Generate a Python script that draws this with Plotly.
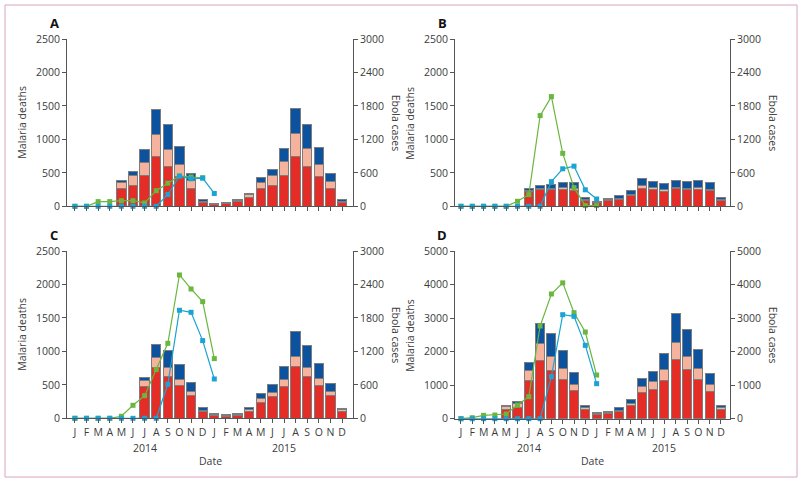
import plotly.graph_objects as go

months = ["J", "F", "M", "A", "M", "J", "J", "A", "S", "O", "N", "D"] * 2
years = ["2014", "2015"]
N = None

# Panel A
a_red = [N, N, N, N, 259, 314, 453, 742, 593, 440, 268, 62,
         28, 40, 72, 135, 259, 314, 463, 742, 593, 438, 264, 60]
a_salmon = [N, N, N, N, 95, 139, 204, 334, 259, 192, 112, 16,
            6, 10, 20, 35, 99, 139, 204, 339, 264, 189, 104, 15]
a_blue = [N, N, N, N, 39, 60, 185, 378, 363, 259, 115, 22,
          8, 8, 13, 25, 70, 90, 190, 383, 358, 254, 120, 25]
a_green_line = [0, 0, 84, 84, 100, 100, 60, 280, 415, 545, 525, 512,
                N, N, N, N, N, N, N, N, N, N, N, N]
a_cyan_line = [0, 0, 0, 0, 0, 0, 0, 0, 212, 540, 493, 505,
               230, N, N, N, N, N, N, N, N, N, N, N]

# Panel B
b_red = [N, N, N, N, N, N, 219, 244, 245, 254, 234, 80,
         50, 80, 100, 154, 269, 254, 224, 259, 249, 254, 234, 90]
b_salmon = [N, N, N, N, N, N, 15, 25, 25, 20, 35, 15,
            10, 15, 20, 15, 40, 30, 20, 25, 20, 30, 20, 10]
b_blue = [N, N, N, N, N, N, 25, 45, 60, 80, 80, 30,
          15, 25, 34, 70, 109, 94, 100, 109, 109, 104, 105, 34]
b_green_line = [0, 0, 0, 0, 0, 90, 209, 1626, 1967, 950, 335, 12,
                12, N, N, N, N, N, N, N, N, N, N, N]
b_cyan_line = [0, 0, 0, 0, 0, 0, 0, 0, 442, 672, 720, 296,
               131, N, N, N, N, N, N, N, N, N, N, N]

# Panel C
c_red = [N, N, N, N, N, N, 468, 757, 627, 483, 334, 100,
         45, 30, 45, 105, 239, 319, 468, 777, 632, 493, 334, 100]
c_salmon = [N, N, N, N, N, N, 95, 154, 130, 95, 64, 15,
            10, 8, 10, 20, 55, 64, 105, 149, 130, 100, 74, 25]
c_blue = [N, N, N, N, N, N, 50, 190, 249, 229, 135, 44,
          20, 12, 20, 29, 74, 115, 194, 364, 324, 219, 115, 24]
c_green_line = [0, 0, 0, 0, 36, 233, 406, 873, 1345, 2570, 2319, 2092,
                1070, N, N, N, N, N, N, N, N, N, N, N]
c_cyan_line = [0, 0, 0, 0, 0, 0, 0, 0, 610, 1937, 1901, 1393,
               705, N, N, N, N, N, N, N, N, N, N, N]

# Panel D
d_red = [N, N, N, N, 270, 338, 1133, 1740, 1441, 1173, 835, 268,
         119, 159, 219, 388, 775, 875, 1143, 1769, 1481, 1173, 825, 278]
d_salmon = [N, N, N, N, 80, 119, 308, 497, 428, 318, 189, 60,
            31, 31, 39, 69, 179, 228, 328, 507, 388, 318, 209, 50]
d_blue = [N, N, N, N, 50, 70, 249, 616, 666, 547, 348, 60,
          29, 29, 70, 129, 259, 299, 467, 855, 785, 577, 318, 60]
d_green_line = [0, 30, 100, 110, 140, 408, 656, 2763, 3718, 4050, 3161, 2584,
                1302, N, N, N, N, N, N, N, N, N, N, N]
d_cyan_line = [0, 0, 0, 0, 0, 0, 0, 0, 1252, 3101, 3052, 2187,
               1044, N, N, N, N, N, N, N, N, N, N, N]

left_ticks_ab_c = [0, 500, 1000, 1500, 2000, 2500]
right_ticks_ab_c = [0, 600, 1200, 1800, 2400, 3000]
ticks_d = [0, 1000, 2000, 3000, 4000, 5000]

RED = "#e42d27"
SALMON = "#f5b29c"
BLUE = "#0c529f"
GREEN = "#6ab63f"
CYAN = "#1ba3d3"
OUTLINE = "#7d7d7d"
AXIS = "#555555"
TXT = "#3c3c3c"
FONT = "Open Sans"

W, H = 800, 483
x_idx = list(range(24))

fig = go.Figure()

panels = [
    ("A", "x", "y", "y2", a_red, a_salmon, a_blue, a_green_line, a_cyan_line,
     left_ticks_ab_c, right_ticks_ab_c, (67, 353), (39, 206.3), (-0.68, 23.94), False),
    ("B", "x2", "y3", "y4", b_red, b_salmon, b_blue, b_green_line, b_cyan_line,
     left_ticks_ab_c, right_ticks_ab_c, (455, 730), (39, 206.3), (-0.53, 23.8), False),
    ("C", "x3", "y5", "y6", c_red, c_salmon, c_blue, c_green_line, c_cyan_line,
     left_ticks_ab_c, right_ticks_ab_c, (67, 353), (251, 418.3), (-0.68, 23.94), True),
    ("D", "x4", "y7", "y8", d_red, d_salmon, d_blue, d_green_line, d_cyan_line,
     ticks_d, ticks_d, (455, 730), (251, 418.7), (-0.53, 23.8), True),
]

layout_axes = {}
annotations = []

def ax_name(ref):
    return ref.replace("x", "xaxis").replace("y", "yaxis")

for (letter, xr, yl, yr, red, salmon, blue, gl, cl, lt, rt, xdom, ydom, xrng, bottom) in panels:
    for vals, col in ((red, RED), (salmon, SALMON), (blue, BLUE)):
        fig.add_trace(go.Bar(x=x_idx, y=vals, xaxis=xr, yaxis=yl, width=0.8,
                             marker=dict(color=col, line=dict(color=OUTLINE, width=1)),
                             showlegend=False, hoverinfo="skip"))
    for vals, col in ((gl, GREEN), (cl, CYAN)):
        fig.add_trace(go.Scatter(x=x_idx, y=vals, xaxis=xr, yaxis=yr, mode="lines+markers",
                                 line=dict(color=col, width=1.2),
                                 marker=dict(symbol="square", size=5, color=col),
                                 cliponaxis=False, connectgaps=False, showlegend=False,
                                 hoverinfo="skip"))

    xd = [xdom[0] / W, xdom[1] / W]
    yd = [1 - ydom[1] / H, 1 - ydom[0] / H]
    common = dict(showline=True, linecolor=AXIS, linewidth=1, ticks="outside",
                  ticklen=4, tickwidth=1, tickcolor=AXIS, showgrid=False,
                  zeroline=False, automargin=False,
                  tickfont=dict(family=FONT, size=10.5, color=TXT))
    layout_axes[ax_name(xr)] = dict(domain=xd, range=list(xrng), anchor=yl,
                                    tickvals=x_idx, ticktext=months,
                                    showticklabels=bottom, **common)
    layout_axes[ax_name(yl)] = dict(domain=yd, range=[0, lt[-1]], anchor=xr,
                                    tickvals=lt, **common)
    layout_axes[ax_name(yr)] = dict(range=[0, rt[-1]], anchor=xr, overlaying=yl,
                                    side="right", tickvals=rt, **common)

    ymid = 1 - (ydom[0] + ydom[1]) / 2 / H
    annotations.append(dict(text="<b>%s</b>" % letter, x=(xdom[0] - 13) / W,
                            y=1 - (ydom[0] - 16) / H, xref="paper", yref="paper",
                            showarrow=False, font=dict(family=FONT, size=13, color="#111"),
                            xanchor="center", yanchor="middle"))
    annotations.append(dict(text="Malaria deaths", x=(xdom[0] - 45) / W, y=ymid,
                            xref="paper", yref="paper", textangle=-90, showarrow=False,
                            font=dict(family=FONT, size=10.5, color=TXT),
                            xanchor="center", yanchor="middle"))
    annotations.append(dict(text="Ebola cases", x=(xdom[1] + 43) / W, y=ymid,
                            xref="paper", yref="paper", textangle=90, showarrow=False,
                            font=dict(family=FONT, size=10.5, color=TXT),
                            xanchor="center", yanchor="middle"))
    if bottom:
        for yi, yx in zip(years, (6.0, 18.0)):
            annotations.append(dict(text=yi, x=yx, y=1 - 448 / H, xref=xr, yref="paper",
                                    showarrow=False, font=dict(family=FONT, size=10.5, color=TXT),
                                    xanchor="center", yanchor="middle"))
        annotations.append(dict(text="Date", x=(xdom[0] + xdom[1]) / 2 / W, y=1 - 461 / H,
                                xref="paper", yref="paper", showarrow=False,
                                font=dict(family=FONT, size=10.5, color=TXT),
                                xanchor="center", yanchor="middle"))

fig.update_layout(
    template="none",
    width=W, height=H, margin=dict(l=0, r=0, t=0, b=0, pad=0, autoexpand=False),
    paper_bgcolor="white", plot_bgcolor="white",
    barmode="stack", bargap=0.2, showlegend=False, hovermode=False,
    annotations=annotations,
    shapes=[dict(type="rect", xref="paper", yref="paper",
                 x0=5 / W, x1=797 / W, y0=1 - 477 / H, y1=1 - 5 / H,
                 line=dict(color="#d9a3bd", width=1), fillcolor="rgba(0,0,0,0)")],
    **layout_axes,
)

fig.write_html("out.html", config={"displayModeBar": False, "staticPlot": True},
               post_script="document.body.style.margin='0';document.body.style.overflow='hidden';")
